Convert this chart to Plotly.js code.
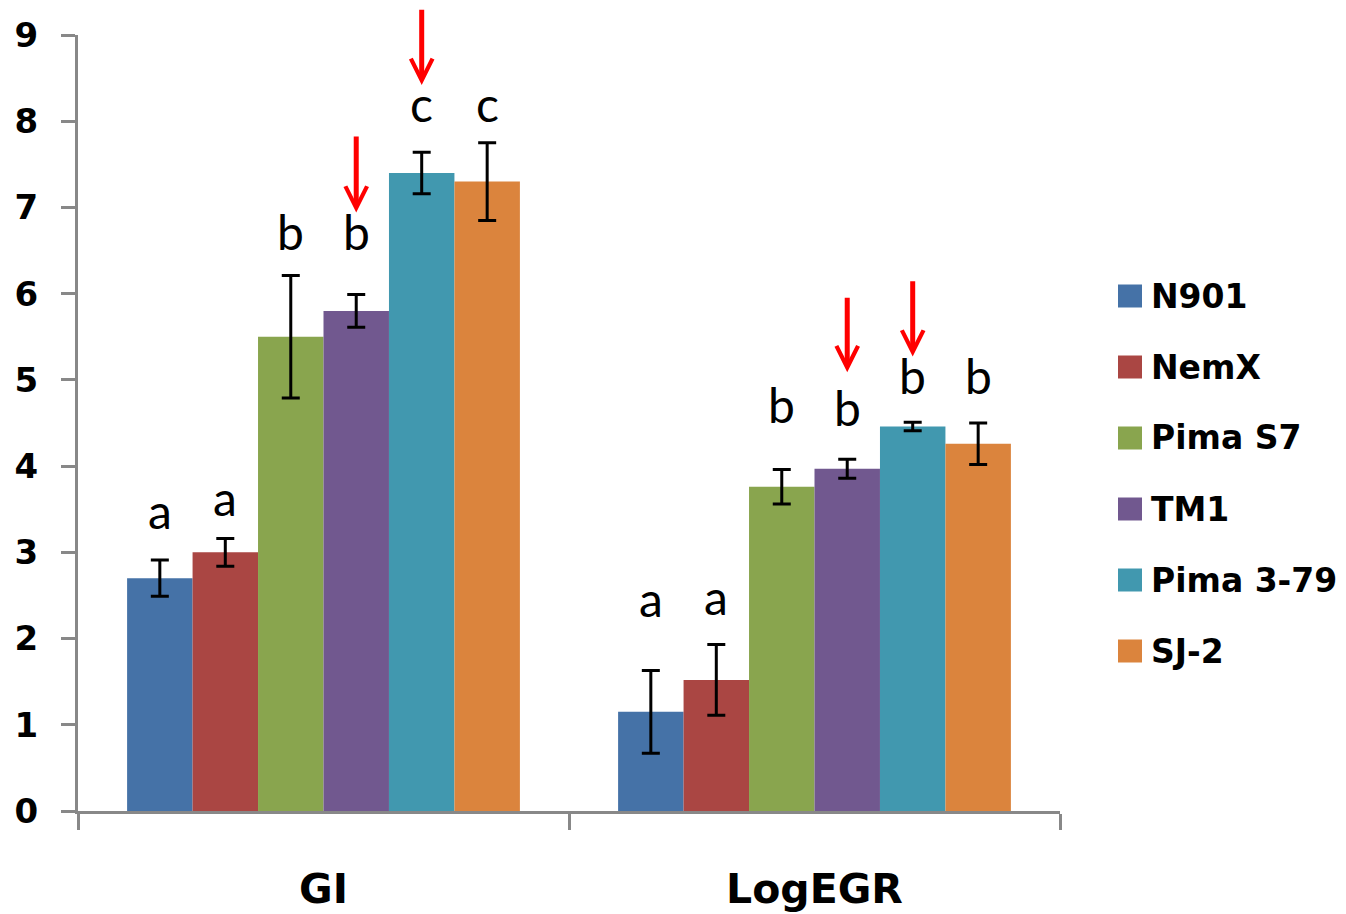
<!DOCTYPE html>
<html>
<head>
<meta charset="utf-8">
<script src="https://cdn.plot.ly/plotly-3.0.1.min.js"></script>
<style>html,body{margin:0;padding:0;background:#fff;}#chart{width:1346px;height:914px;}</style>
</head>
<body>
<div id="chart"></div>
<script>
// ---- data ----
const categories = ['GI', 'LogEGR'];
const seriesNames = ['N901', 'NemX', 'Pima S7', 'TM1', 'Pima 3-79', 'SJ-2'];
const seriesColors = ['#4572A7', '#AA4643', '#89A54E', '#71588F', '#4198AF', '#DB843D'];
const giValues  = [2.70, 3.00, 5.50, 5.80, 7.40, 7.30];
const giErrors  = [0.21, 0.16, 0.71, 0.19, 0.24, 0.45];
const egrValues = [1.15, 1.52, 3.76, 3.97, 4.46, 4.26];
const egrErrors = [0.48, 0.41, 0.20, 0.11, 0.05, 0.24];
const giLetters  = ['a', 'a', 'b', 'b', 'c', 'c'];
const egrLetters = ['a', 'a', 'b', 'b', 'b', 'b'];
const giLetterLevel  = [3.49, 3.64, 6.72, 6.72, 8.20, 8.20];
const egrLetterLevel = [2.46, 2.49, 4.72, 4.68, 5.05, 5.05];
// arrows: category index, series index, tip value, tail value
const arrowCategory = [0, 0, 1, 1];
const arrowSeries   = [3, 4, 3, 4];
const arrowTip      = [6.94, 8.42, 5.09, 5.27];
const arrowTail     = [7.84, 9.31, 5.97, 6.16];

// ---- layout constants ----
const W = 1346, H = 914;
const L = 78, R = 1060, T = 35, B = 811;
const bargap = 0.2;
const nS = seriesNames.length;
const barW = (1 - bargap) / nS;
function barX(cat, s) { return cat - (1 - bargap) / 2 + barW * (s + 0.5); }
function pxX(px) { return (px - L) / (R - L); }
function pxY(py) { return (B - py) / (B - T); }
const boldFamily = 'DejaVu Sans, Liberation Sans, Arial, sans-serif';

const traces = seriesNames.map((name, s) => ({
  type: 'bar',
  name: name,
  x: categories,
  y: [giValues[s], egrValues[s]],
  marker: { color: seriesColors[s], line: { width: 0 } },
  error_y: { type: 'data', array: [giErrors[s], egrErrors[s]], visible: true,
             color: '#000000', thickness: 3, width: 9 },
  showlegend: false,
  hoverinfo: 'x+y+name'
}));

const annotations = [];
const letterFont = { family: 'Lato, Open Sans, sans-serif', size: 48, color: '#000' };
[[giLetters, giLetterLevel], [egrLetters, egrLetterLevel]].forEach(([letters, levels], c) => {
  letters.forEach((t, s) => {
    annotations.push({ x: barX(c, s), y: levels[s], xref: 'x', yref: 'y', text: t,
      showarrow: false, xanchor: 'center', yanchor: 'middle', font: letterFont });
  });
});
arrowCategory.forEach((c, i) => {
  const x = barX(c, arrowSeries[i]);
  annotations.push({ x: x, y: arrowTip[i], ax: x, ay: arrowTail[i], xref: 'x', yref: 'y',
    axref: 'x', ayref: 'y', text: '', showarrow: true, arrowhead: 5, arrowsize: 0.85,
    arrowwidth: 5, arrowcolor: '#FF0000', standoff: 0 });
});

// custom legend
const shapes = [];
const legendTop = 296, legendStep = 71;
seriesNames.forEach((name, s) => {
  const cy = legendTop + s * legendStep;
  shapes.push({ type: 'rect', xref: 'paper', yref: 'paper',
    x0: pxX(1118), x1: pxX(1142), y0: pxY(cy + 11.5), y1: pxY(cy - 11.5),
    fillcolor: seriesColors[s], line: { width: 0 } });
  annotations.push({ xref: 'paper', yref: 'paper', x: pxX(1149), y: pxY(cy), text: name,
    showarrow: false, xanchor: 'left', yanchor: 'middle',
    font: { family: boldFamily, size: 33, color: '#000', weight: 'bold' } });
});

const layout = {
  width: W, height: H,
  margin: { l: L, r: W - R, t: T, b: H - B, pad: 0 },
  paper_bgcolor: '#fff', plot_bgcolor: '#fff',
  barmode: 'group', bargap: bargap, bargroupgap: 0,
  showlegend: false,
  xaxis: {
    type: 'category', showline: true, linecolor: '#888', linewidth: 3,
    ticks: 'outside', tickson: 'boundaries', ticklen: 16, tickwidth: 3, tickcolor: '#888',
    showgrid: false, zeroline: false, ticklabelstandoff: 40,
    tickfont: { family: boldFamily, size: 41, color: '#000', weight: 'bold' }
  },
  yaxis: {
    range: [0, 9], dtick: 1, tick0: 0, showline: true, linecolor: '#888', linewidth: 3,
    ticks: 'outside', ticklen: 14, tickwidth: 3, tickcolor: '#888',
    showgrid: false, zeroline: false, ticklabelstandoff: 16,
    tickfont: { family: boldFamily, size: 34, color: '#000', weight: 'bold' }
  },
  annotations: annotations,
  shapes: shapes
};

Plotly.newPlot('chart', traces, layout, { displayModeBar: false, staticPlot: true });
</script>
</body>
</html>
